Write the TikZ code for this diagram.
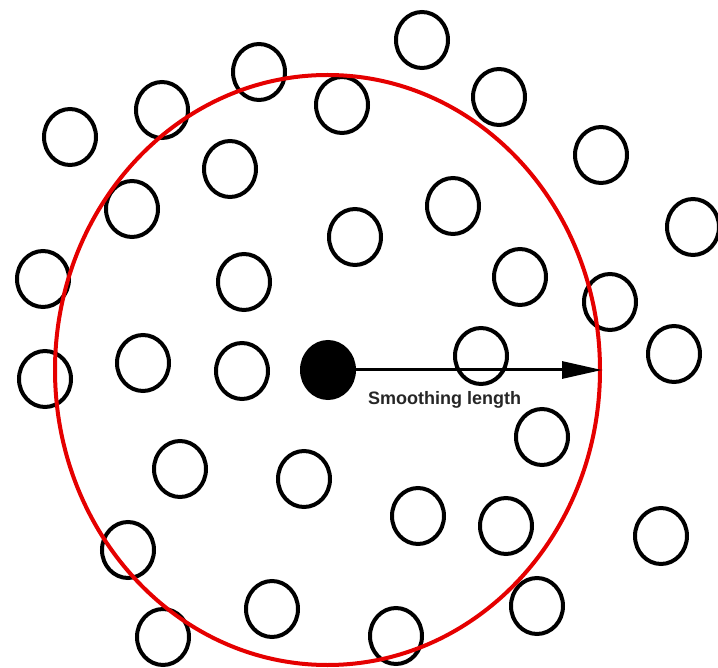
\documentclass[tikz,border=0pt]{standalone}
\usepackage{fontspec}
\setmainfont{Liberation Sans}
\usetikzlibrary{shapes.geometric, arrows.meta}

\begin{document}
\begin{tikzpicture}[
  x=1pt, y=-1pt,
  particle/.style={ellipse, draw=black, line width=4pt, inner sep=0pt,
                   minimum width=52pt, minimum height=56pt},
  kernel/.style={ellipse, draw=red!90!black, line width=4pt, inner sep=0pt,
                 minimum width=545pt, minimum height=590pt},
  arrow/.style={-{Triangle[length=40pt, width=17pt]}, line width=3pt}
]
\useasboundingbox (0,0) rectangle (718,668);

% neighbour particles
\foreach \px/\py [count=\i] in {
    422/40, 259/72, 499/97, 162/110, 342/105, 70/137, 601/155, 230/169,
    132/209, 453/206, 355/237, 693/227, 43/279, 244/282, 520/277, 610/302,
    45/379, 143/363, 242/371, 481/356, 674/354, 542/437, 180/469, 304/479,
    418/516, 506/526, 661/536, 128/550, 272/609, 537/606, 163/637, 396/636}
  \node[particle] (p\i) at (\px,\py) {};

% particle of interest
\node[particle, fill=black] (p0) at (328,370) {};

% support domain
\node[kernel] (h) at (327.5,370) {};

\draw[arrow] (p0) -- (h.east);
\node[anchor=base west, inner sep=0pt, font=\fontsize{18}{20}\selectfont\bfseries,
      text=black!85] (lbl) at (368,405) {Smoothing length};

\end{tikzpicture}
\end{document}
